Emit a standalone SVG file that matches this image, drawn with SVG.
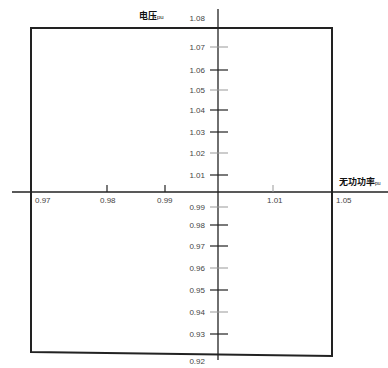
<svg xmlns="http://www.w3.org/2000/svg" width="388" height="368" viewBox="0 0 388 368">
<style>
.lbl{font-family:"Liberation Sans","Noto Sans CJK SC",sans-serif;font-size:8px;fill:#444}
.ttl{font-family:"Liberation Sans","Noto Sans CJK SC",sans-serif;font-size:9px;fill:#111;font-weight:bold}
.frame{fill:none;stroke:#222;stroke-width:2}
.axis{stroke:#222;stroke-width:1.3}
.tk{stroke:#222;stroke-width:1.2}
.tkl{stroke:#999;stroke-width:1}
</style>
<rect width="388" height="368" fill="#fff"/>
<g id="frame">
<path class="frame" d="M31,28 L332,28 L332,356 L31,352 Z"/>
</g>
<g id="connectors">
<line class="axis" x1="218" y1="9" x2="218" y2="360"/>
<line class="axis" x1="12" y1="192" x2="388" y2="192"/>
</g>
<g id="yticks">
<line class="tkl" x1="210" y1="47" x2="228" y2="47"/>
<line class="tk" x1="210" y1="70" x2="228" y2="70"/>
<line class="tkl" x1="210" y1="90" x2="228" y2="90"/>
<line class="tk" x1="210" y1="110" x2="228" y2="110"/>
<line class="tk" x1="210" y1="132" x2="228" y2="132"/>
<line class="tkl" x1="210" y1="153" x2="228" y2="153"/>
<line class="tk" x1="210" y1="175" x2="228" y2="175"/>
<line class="tkl" x1="210" y1="207" x2="228" y2="207"/>
<line class="tk" x1="210" y1="225" x2="228" y2="225"/>
<line class="tk" x1="210" y1="246" x2="228" y2="246"/>
<line class="tkl" x1="210" y1="268" x2="228" y2="268"/>
<line class="tk" x1="210" y1="290" x2="228" y2="290"/>
<line class="tkl" x1="210" y1="312" x2="228" y2="312"/>
<line class="tk" x1="210" y1="334" x2="228" y2="334"/>
</g>
<g id="xticks">
<line class="tk" x1="107" y1="185" x2="107" y2="192"/>
<line class="tk" x1="165" y1="185" x2="165" y2="192"/>
<line class="tkl" x1="273" y1="185" x2="273" y2="192"/>
</g>
<g id="ylabels" text-anchor="end">
<text class="lbl" x="205" y="21">1.08</text>
<text class="lbl" x="205" y="50">1.07</text>
<text class="lbl" x="205" y="73">1.06</text>
<text class="lbl" x="205" y="93">1.05</text>
<text class="lbl" x="205" y="113">1.04</text>
<text class="lbl" x="205" y="135">1.03</text>
<text class="lbl" x="205" y="156">1.02</text>
<text class="lbl" x="205" y="178">1.01</text>
<text class="lbl" x="205" y="210">0.99</text>
<text class="lbl" x="205" y="228">0.98</text>
<text class="lbl" x="205" y="249">0.97</text>
<text class="lbl" x="205" y="271">0.96</text>
<text class="lbl" x="205" y="293">0.95</text>
<text class="lbl" x="205" y="315">0.94</text>
<text class="lbl" x="205" y="337">0.93</text>
<text class="lbl" x="205" y="364">0.92</text>
</g>
<g id="xlabels">
<text class="lbl" x="35" y="203">0.97</text>
<text class="lbl" x="100" y="203">0.98</text>
<text class="lbl" x="157" y="203">0.99</text>
<text class="lbl" x="267" y="203">1.01</text>
<text class="lbl" x="336" y="203">1.05</text>
</g>
<g id="titles">
<text class="ttl" x="139" y="19">电压<tspan font-size="6" font-weight="normal">pu</tspan></text>
<text class="ttl" x="339" y="185" font-size="8">无功功率<tspan font-size="5" font-weight="normal">pu</tspan></text>
</g>
</svg>
